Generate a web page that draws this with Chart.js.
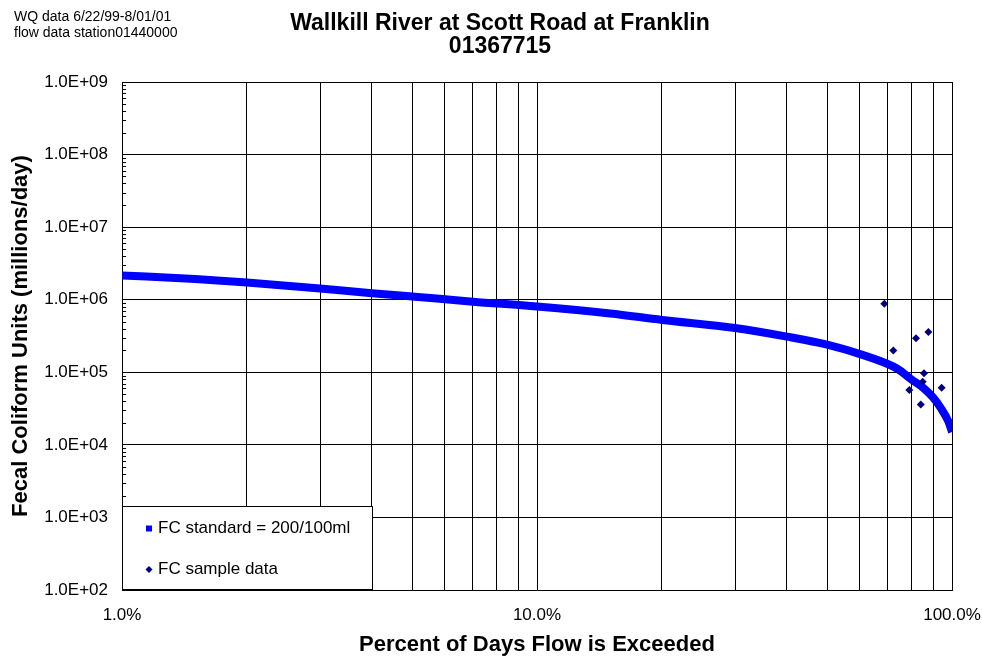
<!DOCTYPE html>
<html>
<head>
<meta charset="utf-8">
<title>Wallkill River at Scott Road at Franklin</title>
<script src="https://cdn.jsdelivr.net/npm/chart.js@4.4.1/dist/chart.umd.min.js"></script>
<style>
    body { margin: 0; background: #FFFFFF; }
    #wrap { width: 982px; height: 658px; }
</style>
</head>
<body>
<div id="wrap"><canvas id="fdcChart" width="982" height="658"></canvas></div>
<script>
// Flow duration curve (load at FC standard) - percent of days exceeded vs load
const flowPct = [1, 1.5, 2, 3, 4, 5, 7, 10, 15, 20, 30, 40, 50, 60, 70, 74, 80, 85, 90, 94, 98, 100];
const flowLoad = [2.16e6, 1.93e6, 1.73e6, 1.43e6, 1.23e6, 1.11e6, 9.4e5, 8.05e5, 6.45e5, 5.27e5, 4.08e5, 3.1e5, 2.4e5,
    1.78e5, 1.3e5, 1.11e5, 7.9e4, 6.2e4, 4.5e4, 3.2e4, 2.1e4, 1.5e4];

// Fecal coliform sample data
const samplePct = [68.7, 72.2, 78.9, 81.9, 84.1, 85.0, 85.6, 87.7, 94.4];
const sampleLoad = [8.8e5, 2.0e5, 5.7e4, 2.95e5, 3.6e4, 7.4e4, 9.7e4, 3.6e5, 6.1e4];

// Axis ticks
const xTicks = [1, 2, 3, 4, 5, 6, 7, 8, 9, 10, 20, 30, 40, 50, 60, 70, 80, 90, 100];
const xLabelled = [1, 10, 100];
const yTicks = [1e2, 1e3, 1e4, 1e5, 1e6, 1e7, 1e8, 1e9];

const titleLines = ['Wallkill River at Scott Road at Franklin', '01367715'];
const noteLines = ['WQ data 6/22/99-8/01/01', 'flow data station01440000'];
const legendItems = ['FC standard = 200/100ml', 'FC sample data'];

const colors = {
    curve: '#0000FF',
    sample: '#000080',
    grid: '#000000',
    text: '#000000'
};

Chart.defaults.font.family = 'Arial, "Liberation Sans", sans-serif';
Chart.defaults.color = colors.text;

function sciLabel(v) {
    const e = Math.round(Math.log10(v));
    return '1.0E+' + String(e).padStart(2, '0');
}

// titles, notes, minor ticks and the boxed legend
const decorPlugin = {
    id: 'decor',
    beforeDatasetsDraw(chart) {
        const ctx = chart.ctx;
        const y = chart.scales.y;
        const left = chart.chartArea.left;
        ctx.save();
        ctx.strokeStyle = '#000000';
        ctx.lineWidth = 1;
        for (let e = 2; e < 9; e++) {
            for (let m = 2; m <= 9; m++) {
                const py = Math.round(y.getPixelForValue(m * Math.pow(10, e))) + 0.5;
                ctx.beginPath();
                ctx.moveTo(left, py);
                ctx.lineTo(left + 4, py);
                ctx.stroke();
            }
        }
        ctx.restore();
    },
    afterDraw(chart) {
        const ctx = chart.ctx;
        const area = chart.chartArea;
        ctx.save();
        ctx.fillStyle = colors.text;
        ctx.textBaseline = 'middle';

        ctx.textAlign = 'center';
        ctx.font = 'bold 23px Arial, "Liberation Sans", sans-serif';
        ctx.fillText(titleLines[0], 500, 24);
        ctx.fillText(titleLines[1], 500, 47);

        ctx.textAlign = 'left';
        ctx.font = '14px Arial, "Liberation Sans", sans-serif';
        ctx.fillText(noteLines[0], 14, 17);
        ctx.fillText(noteLines[1], 14, 33);

        // legend box in lower left of plot area
        const bx = area.left + 0.5, by = area.bottom - 83.5, bw = 250, bh = 83;
        ctx.fillStyle = '#FFFFFF';
        ctx.fillRect(bx, by, bw, bh);
        ctx.strokeStyle = '#000000';
        ctx.lineWidth = 1;
        ctx.strokeRect(bx, by, bw, bh);

        ctx.fillStyle = colors.curve;
        ctx.fillRect(area.left + 24, by + 19, 6, 6);
        ctx.fillStyle = colors.sample;
        ctx.beginPath();
        const dx = area.left + 27, dy = by + 63;
        ctx.moveTo(dx, dy - 3.5);
        ctx.lineTo(dx + 3.5, dy);
        ctx.lineTo(dx, dy + 3.5);
        ctx.lineTo(dx - 3.5, dy);
        ctx.closePath();
        ctx.fill();

        ctx.fillStyle = colors.text;
        ctx.font = '17px Arial, "Liberation Sans", sans-serif';
        ctx.fillText(legendItems[0], area.left + 36, by + 22);
        ctx.fillText(legendItems[1], area.left + 36, by + 63);
        ctx.restore();
    }
};

document.addEventListener('DOMContentLoaded', function() {
    const ctx = document.getElementById('fdcChart');

    new Chart(ctx, {
        type: 'scatter',
        data: {
            datasets: [{
                label: legendItems[1],
                data: samplePct.map((p, i) => ({ x: p, y: sampleLoad[i] })),
                backgroundColor: colors.sample,
                borderColor: colors.sample,
                pointStyle: 'rectRot',
                pointRadius: 4,
                borderWidth: 0,
                order: 0
            }, {
                label: legendItems[0],
                data: flowPct.map((p, i) => ({ x: p, y: flowLoad[i] })),
                showLine: true,
                borderColor: colors.curve,
                backgroundColor: colors.curve,
                borderWidth: 8,
                pointRadius: 0,
                cubicInterpolationMode: 'monotone',
                order: 1
            }]
        },
        options: {
            responsive: false,
            animation: false,
            layout: {
                padding: { top: 82, right: 30, left: 0, bottom: 0 }
            },
            plugins: {
                legend: { display: false },
                title: { display: false },
                tooltip: { enabled: false }
            },
            scales: {
                x: {
                    type: 'logarithmic',
                    min: 1,
                    max: 100,
                    afterBuildTicks: function(scale) {
                        scale.ticks = xTicks.map(v => ({ value: v }));
                    },
                    afterFit: function(scale) {
                        scale.height = 68;
                        scale.paddingLeft = 0;
                        scale.paddingRight = 0;
                    },
                    ticks: {
                        autoSkip: false,
                        maxRotation: 0,
                        padding: 15,
                        font: { size: 17 },
                        callback: function(value) {
                            return xLabelled.includes(value) ? value.toFixed(1) + '%' : '';
                        }
                    },
                    grid: {
                        color: colors.grid,
                        lineWidth: 1,
                        drawTicks: false
                    },
                    border: { display: true, color: '#000000', width: 1 },
                    title: {
                        display: true,
                        text: 'Percent of Days Flow is Exceeded',
                        font: { size: 22, weight: 'bold' },
                        padding: { top: 0, bottom: 0 }
                    }
                },
                y: {
                    type: 'logarithmic',
                    min: 1e2,
                    max: 1e9,
                    afterBuildTicks: function(scale) {
                        scale.ticks = yTicks.map(v => ({ value: v }));
                    },
                    afterFit: function(scale) {
                        scale.width = 122;
                        scale.paddingTop = 0;
                        scale.paddingBottom = 0;
                    },
                    ticks: {
                        autoSkip: false,
                        padding: 14,
                        font: { size: 17 },
                        callback: function(value) {
                            return sciLabel(value);
                        }
                    },
                    grid: {
                        color: colors.grid,
                        lineWidth: 1,
                        drawTicks: false
                    },
                    border: { display: true, color: '#000000', width: 1 },
                    title: {
                        display: true,
                        text: 'Fecal Coliform Units (millions/day)',
                        font: { size: 22, weight: 'bold' },
                        padding: { top: 8, bottom: 0 }
                    }
                }
            }
        },
        plugins: [decorPlugin]
    });
});
</script>
</body>
</html>
